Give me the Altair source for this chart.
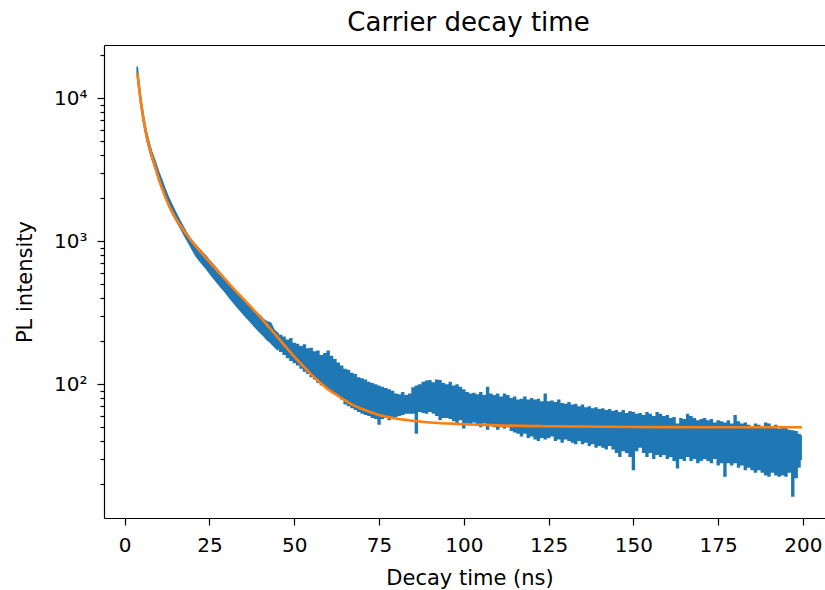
import altair as alt
import pandas as pd

# ---- fitted curve (orange) ----
fit_time = [3.7, 4.0, 4.5, 5.0, 5.5, 6.0, 6.5, 7.0, 7.5, 8.0, 9.0, 10.0, 11.0, 12.0, 13.0, 14.0,
            15.0, 16.0, 17.0, 18.0, 19.0, 20.0, 22.5, 25.0, 27.5, 30.0, 32.5, 35.0, 37.5, 40.0,
            42.5, 45.0, 47.5, 50.0, 52.5, 55.0, 57.5, 60.0, 62.5, 65.0, 67.5, 70.0, 75.0, 80.0,
            85.0, 90.0, 100.0, 110.0, 125.0, 150.0, 175.0, 199.7]
fit_intensity = [15000, 13200, 10500, 8600, 7200, 6200, 5400, 4850, 4350, 3950, 3300, 2750, 2350,
                 2030, 1790, 1600, 1450, 1330, 1225, 1135, 1055, 985, 835, 715, 615, 530, 455, 395,
                 342, 294, 251, 214, 182, 156, 135, 117, 103, 92, 84, 77, 71, 67, 61, 57.5,
                 55.5, 54, 52.5, 51.5, 50.8, 50.2, 50, 50]

# ---- measured PL band (blue), early part: upper / lower envelope ----
pl_time_early = [3.7, 4.0, 4.5, 5.0, 5.5, 6.0, 6.5, 7.0, 7.5, 8.0, 9.0, 10.0, 11.0, 12.0, 13.0,
                 14.0, 15.0, 16.0, 17.0, 18.0, 19.0, 20.0, 21.0, 22.0, 23.0, 24.0, 25.0, 26.0,
                 27.0, 28.0, 29.0, 30.0, 31.0, 32.0, 33.0, 34.0, 35.0, 36.0, 37.0, 38.0, 39.0,
                 40.0, 41.0, 42.0, 43.0, 44.0, 45.0]
pl_upper_early = [16600, 14200, 11200, 9100, 7600, 6500, 5700, 5100, 4600, 4200, 3600, 3050, 2650,
                  2280, 2000, 1780, 1590, 1430, 1290, 1170, 1070, 990, 935, 880, 830, 785, 730,
                  690, 645, 605, 565, 530, 495, 465, 440, 415, 390, 368, 350, 328, 312, 300, 282,
                  272, 268, 240, 228]
pl_lower_early = [14500, 12600, 10000, 8200, 6900, 5900, 5150, 4600, 4150, 3800, 3200, 2700, 2320,
                  2000, 1760, 1570, 1420, 1290, 1170, 1060, 960, 870, 790, 735, 690, 645, 600,
                  560, 525, 490, 460, 430, 400, 375, 350, 330, 310, 292, 275, 258, 243, 230, 218,
                  205, 196, 185, 175]

# ---- measured PL band (blue), noisy tail: upper / lower envelope ----
pl_time_late = [45, 46, 47, 48, 49, 50, 51, 52, 53, 54, 55, 56, 57, 58, 59, 60, 61, 62, 63, 64,
                65, 66, 67, 68, 69, 70, 71, 72, 73, 74, 75, 76, 77, 78, 79, 80, 81, 82, 83, 84,
                85, 86, 87, 88, 89, 90, 91, 92, 93, 94, 95, 96, 97, 98, 99, 100, 101, 102, 103,
                104, 105, 106, 107, 108, 109, 110, 111, 112, 113, 114, 115, 116, 117, 118, 119,
                120, 121, 122, 123, 124, 125, 126, 127, 128, 129, 130, 131, 132, 133, 134, 135,
                136, 137, 138, 139, 140, 141, 142, 143, 144, 145, 146, 147, 148, 149, 150, 151,
                152, 153, 154, 155, 156, 157, 158, 159, 160, 161, 162, 163, 164, 165, 166, 167,
                168, 169, 170, 171, 172, 173, 174, 175, 176, 177, 178, 179, 180, 181, 182, 183,
                184, 185, 186, 187, 188, 189, 190, 191, 192, 193, 194, 195, 196, 197, 198, 199,
                199.7]
pl_upper_late = [228, 222, 215, 205, 210, 195, 192, 185, 190, 178, 180, 170, 172, 160, 165, 172,
                 158, 150, 142, 135, 128, 126, 120, 118, 112, 110, 108, 104, 102, 100, 98, 96, 94,
                 92, 90, 86, 85, 88, 84, 86, 95, 98, 100, 104, 106, 107, 103, 108, 107, 102, 100,
                 104, 98, 100, 96, 92, 88, 86, 87, 85, 88, 84, 96, 86, 84, 86, 82, 86, 84, 80, 82,
                 78, 79, 82, 78, 80, 78, 79, 76, 86, 76, 77, 75, 78, 74, 73, 75, 72, 73, 70, 72,
                 69, 70, 68, 69, 67, 68, 66, 67, 65, 66, 64, 66, 63, 65, 64, 62, 63, 61, 64, 62,
                 60, 64, 62, 60, 61, 58, 59, 53, 58, 57, 62, 60, 58, 56, 57, 58, 56, 57, 54, 56,
                 55, 54, 56, 53, 61, 55, 53, 54, 52, 51, 53, 52, 50, 54, 53, 50, 52, 49, 51, 50,
                 48, 47.6, 47, 45, 44]
pl_lower_late = [175, 168, 160, 152, 145, 140, 135, 128, 122, 118, 112, 108, 102, 98, 95, 92, 88,
                 86, 82, 78, 72, 70, 68, 66, 64, 62, 61, 60, 58, 57, 52, 57, 58, 56, 58, 59, 60,
                 61, 62, 62, 62, 45, 64, 63, 62, 64, 62, 60, 56, 58, 58, 57, 55, 53, 56, 49, 53,
                 52, 54, 52, 50, 53, 48, 52, 50, 48, 50, 49, 50, 47, 46, 45, 43, 45, 42, 43, 41,
                 40, 42, 41, 42, 43, 40, 41, 39, 41, 40, 39, 38, 40, 38, 39, 37, 38, 36, 37, 36,
                 35, 37, 35, 33, 31, 34, 33, 31, 25, 34, 36, 33, 31, 33, 30, 32, 31, 32, 30, 31,
                 29, 25.7, 30, 29, 31, 29, 30, 28, 29, 30, 29, 28, 30, 27, 28, 22.5, 28, 27, 28,
                 26, 27, 25, 26, 25, 24, 25, 24, 23, 22.5, 24, 23, 22.5, 23, 22.5, 24, 16.3, 22,
                 26, 29.5]

# ---- axis ticks ----
x_ticks = [0, 25, 50, 75, 100, 125, 150, 175, 200]
y_ticks = [20, 30, 40, 50, 60, 70, 80, 90,
           100, 200, 300, 400, 500, 600, 700, 800, 900,
           1000, 2000, 3000, 4000, 5000, 6000, 7000, 8000, 9000,
           10000, 20000]
y_major = [100, 1000, 10000]
y_major_labels = ["10²", "10³", "10⁴"]

fit_df = pd.DataFrame({"t": fit_time, "fit": fit_intensity})
early_df = pd.DataFrame({"t": pl_time_early, "upper": pl_upper_early, "lower": pl_lower_early})
late_df = pd.DataFrame({"t": pl_time_late, "upper": pl_upper_late, "lower": pl_lower_late})

FONT = "DejaVu Sans"
W, H = 721, 473

x_scale = alt.Scale(domain=[-6.1, 206.5], nice=False, zero=False)
y_scale = alt.Scale(type="log", domain=[11.6, 23500], nice=False)

label_expr = " : ".join(
    f"datum.value == {v} ? '{l}'" for v, l in zip(y_major, y_major_labels)
) + " : ''"
major_test = "indexof([" + ",".join(str(v) for v in y_major) + "], datum.value) >= 0"

x_axis = alt.Axis(
    values=x_ticks, format="d", grid=False,
    tickSize=7, tickWidth=1.2, tickColor="black",
    domainColor="black", domainWidth=1.2,
    labelFont=FONT, labelFontSize=20, labelColor="black", labelPadding=10,
    labelFlush=False, labelOverlap=False,
    title="Decay time (ns)", titleFont=FONT, titleFontSize=21, titleFontWeight="normal",
    titleColor="black", titleX=365.5, titleY=60, titleBaseline="middle",
)
y_axis = alt.Axis(
    values=y_ticks, labelExpr=label_expr, grid=False,
    tickSize={"condition": {"test": major_test, "value": 7}, "value": 4},
    tickWidth=1.2, tickColor="black",
    domainColor="black", domainWidth=1.2,
    labelFont=FONT, labelFontSize=20, labelColor="black", labelPadding=10,
    labelOverlap=False, labelBaseline="middle",
    title="PL intensity", titleFont=FONT, titleFontSize=21, titleFontWeight="normal",
    titleColor="black", titleX=-79, titleY=236.5, titleBaseline="middle", titleAngle=-90,
    titleAlign="center",
)

X = alt.X("t:Q", scale=x_scale, axis=x_axis)

blue_early = alt.Chart(early_df).mark_area(
    color="#1f77b4", stroke="#1f77b4", strokeWidth=1.6, interpolate="linear"
).encode(
    x=X,
    y=alt.Y("lower:Q", scale=y_scale, axis=y_axis),
    y2="upper:Q",
)
blue_late = alt.Chart(late_df).mark_area(
    color="#1f77b4", interpolate="step", opacity=1
).encode(
    x=X,
    y=alt.Y("lower:Q", scale=y_scale, axis=y_axis),
    y2="upper:Q",
)
orange = alt.Chart(fit_df).mark_line(
    color="#ff7f0e", strokeWidth=2.6, interpolate="monotone"
).encode(
    x=X,
    y=alt.Y("fit:Q", scale=y_scale, axis=y_axis),
)

data_layer = alt.layer(blue_early, blue_late, orange)

top_border = alt.Chart(fit_df).mark_point(opacity=0).encode(
    x=alt.X("t:Q", scale=x_scale,
            axis=alt.Axis(orient="top", labels=False, ticks=False, title=None, grid=False,
                          domainColor="black", domainWidth=1.2)),
    y=alt.value(0),
)

chart = alt.layer(data_layer, top_border).resolve_scale(x="independent").properties(
    width=W, height=H,
    title=alt.TitleParams("Carrier decay time", font=FONT, fontSize=26, fontWeight="normal",
                          color="black", anchor="middle", dx=4, offset=6),
    autosize=alt.AutoSizeParams(type="none"),
    padding={"left": 104, "top": 45, "right": 0, "bottom": 72},
).configure_view(strokeWidth=0)

chart.save("out.html", embed_options={"renderer": "svg", "actions": False})
